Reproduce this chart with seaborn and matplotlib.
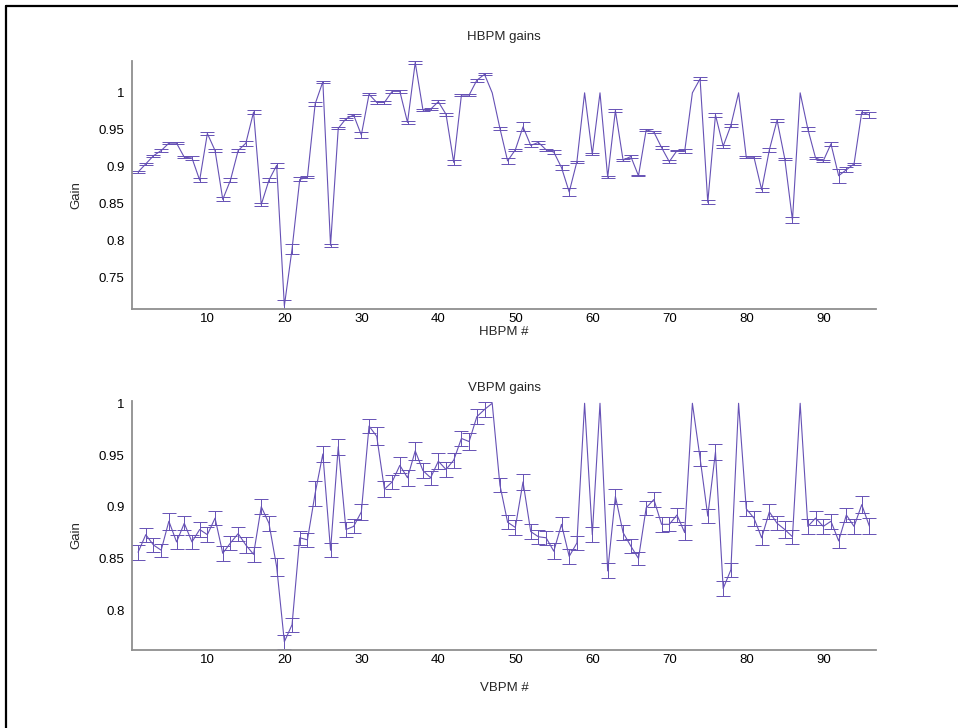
import numpy as np
import pandas as pd
import matplotlib
matplotlib.use('Agg')
import matplotlib.pyplot as plt
from matplotlib.lines import Line2D
import seaborn as sns

# BPM index 1..96
bpm = list(range(1, 97))

# Horizontal BPM gains and their errors
h_gain = [0.893, 0.904, 0.915, 0.922, 0.932, 0.932, 0.913, 0.912, 0.882, 0.945,
          0.922, 0.856, 0.882, 0.922, 0.932, 0.974, 0.849, 0.882, 0.902, 0.712,
          0.789, 0.883, 0.886, 0.985, 1.015, 0.794, 0.952, 0.965, 0.970, 0.943,
          0.998, 0.987, 0.987, 1.002, 1.002, 0.960, 1.041, 0.977, 0.978, 0.988,
          0.971, 0.906, 0.997, 0.997, 1.017, 1.025, 1.000, 0.952, 0.908, 0.923,
          0.954, 0.929, 0.933, 0.923, 0.920, 0.899, 0.866, 0.907, 1.000, 0.917,
          1.000, 0.886, 0.976, 0.909, 0.914, 0.888, 0.950, 0.947, 0.926, 0.907,
          0.922, 0.921, 1.000, 1.019, 0.852, 0.970, 0.928, 0.956, 1.000, 0.913,
          0.913, 0.869, 0.923, 0.963, 0.911, 0.828, 1.000, 0.951, 0.912, 0.908,
          0.931, 0.888, 0.896, 0.904, 0.974, 0.970]
h_err = [0.0018, 0.0018, 0.0016, 0.0023, 0.0018, 0.0018, 0.0014, 0.0023, 0.0023, 0.0025,
         0.0018, 0.0027, 0.0023, 0.0023, 0.0032, 0.0025, 0.0020, 0.0025, 0.0030, 0.0080,
         0.0068, 0.0027, 0.0014, 0.0025, 0.0016, 0.0023, 0.0014, 0.0014, 0.0014, 0.0038,
         0.0014, 0.0018, 0.0018, 0.0018, 0.0018, 0.0020, 0.0023, 0.0016, 0.0018, 0.0018,
         0.0023, 0.0038, 0.0018, 0.0018, 0.0020, 0.0014, 0.0, 0.0023, 0.0045, 0.0016,
         0.0060, 0.0016, 0.0018, 0.0010, 0.0023, 0.0030, 0.0050, 0.0014, 0.0, 0.0011,
         0.0, 0.0010, 0.0025, 0.0010, 0.0020, 0.0007, 0.0014, 0.0016, 0.0018, 0.0018,
         0.0011, 0.0027, 0.0, 0.0023, 0.0027, 0.0025, 0.0020, 0.0018, 0.0, 0.0016,
         0.0011, 0.0023, 0.0023, 0.0023, 0.0014, 0.0045, 0.0, 0.0030, 0.0018, 0.0016,
         0.0027, 0.0097, 0.0032, 0.0011, 0.0023, 0.0040]

# Vertical BPM gains and their errors
v_gain = [0.856, 0.873, 0.863, 0.858, 0.886, 0.866, 0.884, 0.866, 0.878, 0.873,
          0.889, 0.855, 0.865, 0.874, 0.863, 0.854, 0.900, 0.884, 0.842, 0.7695,
          0.786, 0.870, 0.868, 0.913, 0.951, 0.858, 0.958, 0.878, 0.881, 0.895,
          0.978, 0.968, 0.917, 0.924, 0.940, 0.928, 0.954, 0.935, 0.928, 0.944,
          0.936, 0.945, 0.966, 0.963, 0.987, 0.994, 1.000, 0.921, 0.885, 0.880,
          0.924, 0.876, 0.871, 0.870, 0.857, 0.883, 0.852, 0.865, 1.000, 0.873,
          1.000, 0.838, 0.910, 0.875, 0.862, 0.850, 0.899, 0.907, 0.883, 0.883,
          0.892, 0.875, 1.000, 0.947, 0.891, 0.953, 0.821, 0.839, 1.000, 0.898,
          0.889, 0.870, 0.895, 0.884, 0.878, 0.871, 1.000, 0.881, 0.889, 0.881,
          0.886, 0.867, 0.892, 0.881, 0.902, 0.881]
v_err = [0.0072, 0.0069, 0.0069, 0.0064, 0.0080, 0.0068, 0.0066, 0.0068, 0.0069, 0.0072,
         0.0069, 0.0071, 0.0072, 0.0068, 0.0079, 0.0072, 0.0072, 0.0072, 0.0088, 0.0068,
         0.0066, 0.0069, 0.0069, 0.0120, 0.0076, 0.0066, 0.0079, 0.0072, 0.0068, 0.0076,
         0.0071, 0.0087, 0.0077, 0.0071, 0.0077, 0.0077, 0.0088, 0.0072, 0.0069, 0.0077,
         0.0076, 0.0071, 0.0074, 0.0079, 0.0072, 0.0076, 0.0, 0.0072, 0.0068, 0.0072,
         0.0076, 0.0069, 0.0068, 0.0068, 0.0077, 0.0068, 0.0072, 0.0068, 0.0, 0.0072,
         0.0, 0.0072, 0.0072, 0.0069, 0.0064, 0.0066, 0.0069, 0.0072, 0.0072, 0.0069,
         0.0069, 0.0072, 0.0, 0.0072, 0.0068, 0.0077, 0.0072, 0.0069, 0.0, 0.0071,
         0.0072, 0.0072, 0.0072, 0.0069, 0.0080, 0.0066, 0.0, 0.0069, 0.0068, 0.0072,
         0.0072, 0.0069, 0.0069, 0.0072, 0.0080, 0.0077]

h_yticks = [0.75, 0.8, 0.85, 0.9, 0.95, 1.0]
v_yticks = [0.8, 0.85, 0.9, 0.95, 1.0]
x_ticks = [10, 20, 30, 40, 50, 60, 70, 80, 90]

sns.set_style('white')
plt.rcParams['font.family'] = ['Liberation Sans', 'DejaVu Sans']
plt.rcParams['font.size'] = 9.5

line_col = '#6651b5'
axis_col = '#8f8f8f'

fig = plt.figure(figsize=(9.58, 7.28), dpi=100)
ax1 = fig.add_axes([0.1373, 0.5762, 0.7771, 0.3400])
ax2 = fig.add_axes([0.1373, 0.1078, 0.7771, 0.3418])


def gain_panel(ax, gain, err, ylim, yticks):
    df = pd.DataFrame({'bpm': bpm, 'gain': gain, 'err': err})
    sns.lineplot(data=df, x='bpm', y='gain', ax=ax, color=line_col, lw=0.8,
                 estimator=None, sort=False)
    fit = df[df['err'] > 0]
    ax.errorbar(fit['bpm'], fit['gain'], yerr=fit['err'], fmt='none',
                ecolor=line_col, elinewidth=0.7, capsize=4.8, capthick=0.7)
    ax.set_xlim(0.15, 96.85)
    ax.set_ylim(*ylim)
    ax.set_xticks(x_ticks)
    ax.set_yticks(yticks)
    ax.set_yticklabels([f'{t:g}' for t in yticks])
    ax.set_xlabel('')
    ax.set_ylabel('')
    for s in ['top', 'right']:
        ax.spines[s].set_visible(False)
    for s in ['left', 'bottom']:
        ax.spines[s].set_color(axis_col)
        ax.spines[s].set_linewidth(1.3)
    ax.tick_params(direction='in', length=4, width=0.8, color='#555555',
                   labelsize=9.5, labelcolor='black', pad=5)
    ax.tick_params(axis='x', pad=3)


gain_panel(ax1, h_gain, h_err, (0.7086, 1.043), h_yticks)
gain_panel(ax2, v_gain, v_err, (0.762, 1.0025), v_yticks)

# titles and labels placed where the reference has them
fig.text(504 / 958, 1 - 37 / 728, 'HBPM gains', ha='center', va='center', fontsize=9.5)
fig.text(504 / 958, 1 - 332 / 728, 'HBPM #', ha='center', va='center', fontsize=9.5)
fig.text(76 / 958, 1 - 195 / 728, 'Gain', ha='center', va='center', rotation=90, fontsize=9.5)
fig.text(504 / 958, 1 - 388 / 728, 'VBPM gains', ha='center', va='center', fontsize=9.5)
fig.text(504 / 958, 1 - 688 / 728, 'VBPM #', ha='center', va='center', fontsize=9.5)
fig.text(76 / 958, 1 - 535 / 728, 'Gain', ha='center', va='center', rotation=90, fontsize=9.5)

# figure frame (left and top edges only)
fig.add_artist(Line2D([6 / 958, 6 / 958], [0, 1 - 6 / 728], color='black', lw=1.6,
                      transform=fig.transFigure))
fig.add_artist(Line2D([6 / 958, 1], [1 - 6 / 728, 1 - 6 / 728], color='black', lw=1.6,
                      transform=fig.transFigure))

fig.savefig('out.png', dpi=100)
